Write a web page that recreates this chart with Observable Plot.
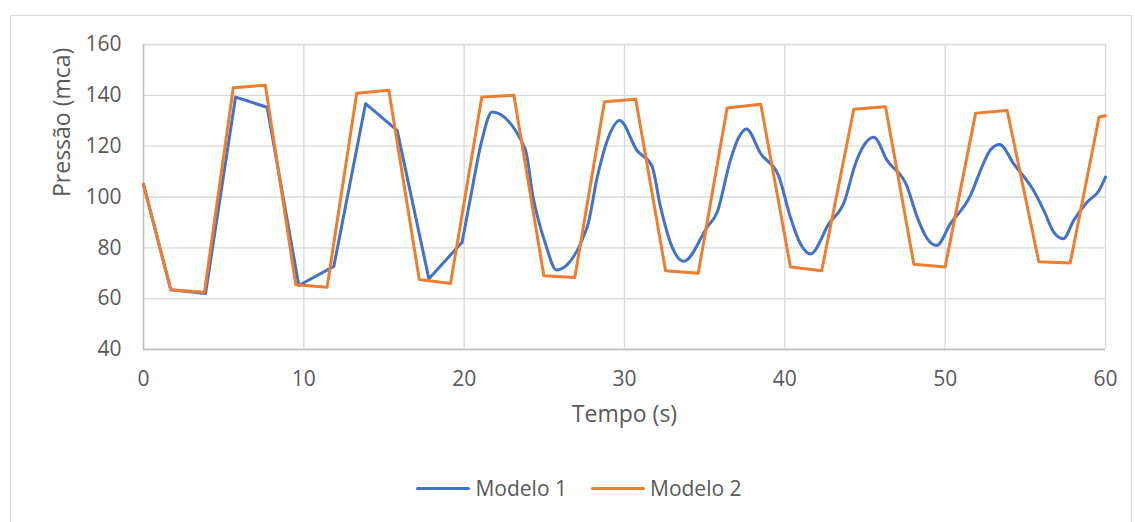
<!DOCTYPE html>
<html>
<head>
<meta charset="utf-8">
<script src="https://cdn.jsdelivr.net/npm/d3@7"></script>
<script src="https://cdn.jsdelivr.net/npm/@observablehq/plot@0.6"></script>
<style>
  html, body { margin: 0; padding: 0; background: #fff; }
  #wrap { position: relative; width: 1135px; height: 522px; overflow: hidden; font-family: "Open Sans", sans-serif; }
  #frame { position: absolute; left: 10px; top: 15px; width: 1122px; height: 520px; border: 1px solid #d9d9d9; box-sizing: border-box; }
  #legend { position: absolute; top: 474px; left: 0; width: 1135px; display: flex; justify-content: center; gap: 24px; font-size: 21px; color: #595959; padding-left: 23px; box-sizing: border-box; }
  .item { display: flex; align-items: center; gap: 5px; }
  .sw { width: 54px; height: 3px; border-radius: 2px; }
  svg { position: absolute; left: 0; top: 0; }
</style>
</head>
<body>
<div id="wrap"><div id="frame"></div><div id="legend"></div></div>
<script>
const xTicks = [0, 10, 20, 30, 40, 50, 60];
const yTicks = [40, 60, 80, 100, 120, 140, 160];
const seriesNames = ["Modelo 1", "Modelo 2"];
const seriesColors = ["#4472C4", "#ED7D31"];

const modelo1T = [0, 1.7, 3.87, 5.74, 7.71, 9.69, 11.87, 13.85, 15.82, 17.8, 19.87,
  20.4, 21.1, 21.74, 23.8, 24.3, 25.07, 25.76, 27.67, 28.3, 29.0, 29.7, 30.78, 31.7,
  32.25, 32.97, 33.7, 35.15, 35.78, 36.6, 37.13, 37.6, 38.5, 39.6, 40.35, 40.97, 41.6,
  42.75, 43.7, 44.4, 44.93, 45.55, 46.38, 47.6, 48.26, 48.88, 49.46, 50.33, 51.58,
  52.2, 52.83, 53.4, 54.28, 55.63, 56.15, 56.77, 57.36, 58.02, 58.86, 59.6, 60];
const modelo1P = [105, 63.5, 62, 139.3, 135.3, 65.2, 72.7, 136.7, 126.2, 67.8, 82.2,
  99.9, 122.2, 133.4, 119, 99.9, 81.6, 71.3, 88.1, 107.8, 123.5, 130.1, 118.3, 112.4,
  96, 80.3, 74.7, 88.1, 94, 114.4, 123.5, 126.8, 117, 108.5, 92, 81.6, 77.6,
  89.5, 98, 113, 120.3, 123.5, 114.4, 104.5, 92, 83.6, 80.9, 89.5, 100.6,
  110.4, 118.6, 120.7, 113, 101.3, 94.7, 86.2, 83.6, 90.8, 98, 102.6, 107.8];

const modelo2T = [0, 1.7, 3.8, 5.6, 7.6, 9.5, 11.45, 13.3, 15.3, 17.2, 19.15, 21.1, 23.1,
  24.97, 26.9, 28.75, 30.7, 32.56, 34.6, 36.4, 38.5, 40.35, 42.3, 44.3, 46.28, 48.05,
  50.0, 51.9, 53.87, 55.84, 57.8, 59.6, 60];
const modelo2P = [105, 63.5, 62.5, 143, 144, 65.5, 64.5, 140.8, 142, 67.5, 66, 139.3, 140,
  69, 68.3, 137.5, 138.5, 71, 70, 135, 136.5, 72.5, 71, 134.5, 135.5, 73.5,
  72.5, 133, 134, 74.5, 74, 131.5, 132];

const d1 = modelo1T.map((t, i) => ({t, p: modelo1P[i], s: seriesNames[0]}));
const d2 = modelo2T.map((t, i) => ({t, p: modelo2P[i], s: seriesNames[1]}));
// early part of Modelo 1 is drawn with straight segments, later part smoothed
const split = 19.87;
const d1a = d1.filter(d => d.t <= split);
const d1b = d1.filter(d => d.t >= split);

const chart = Plot.plot({
  width: 1135,
  height: 522,
  marginLeft: 143,
  marginRight: 30,
  marginTop: 44,
  marginBottom: 173,
  style: { fontFamily: "Open Sans, sans-serif", fontSize: "21px", color: "#595959", background: "transparent", overflow: "visible" },
  x: { domain: [0, 60] },
  y: { domain: [40, 160] },
  color: { domain: seriesNames, range: seriesColors },
  marks: [
    Plot.gridX(xTicks, { stroke: "#d9d9d9", strokeOpacity: 1, strokeWidth: 1.3 }),
    Plot.gridY(yTicks, { stroke: "#d9d9d9", strokeOpacity: 1, strokeWidth: 1.3 }),
    Plot.ruleY([40], { stroke: "#bfbfbf", strokeWidth: 1.5 }),
    Plot.ruleX([0], { stroke: "#bfbfbf", strokeWidth: 1.5 }),
    Plot.axisX(xTicks, { tickSize: 0, tickPadding: 22, label: null, fill: "#595959", fontSize: 21 }),
    Plot.axisY(yTicks, { tickSize: 0, tickPadding: 22, label: null, fill: "#595959", fontSize: 21 }),
    Plot.text(["Tempo (s)"], { frameAnchor: "bottom", dy: 72, fill: "#595959", fontSize: 23 }),
    Plot.text(["Pressão (mca)"], { frameAnchor: "left", dx: -81, rotate: -90, fill: "#595959", fontSize: 23 }),
    Plot.line(d1a, { x: "t", y: "p", stroke: "s", strokeWidth: 3, curve: "linear", strokeLinejoin: "round", strokeLinecap: "round" }),
    Plot.line(d1b, { x: "t", y: "p", stroke: "s", strokeWidth: 3, curve: "monotone-x", strokeLinejoin: "round", strokeLinecap: "round" }),
    Plot.line(d2, { x: "t", y: "p", stroke: "s", strokeWidth: 3, curve: "linear", strokeLinejoin: "round" })
  ]
});
document.getElementById("wrap").appendChild(chart);

const leg = document.getElementById("legend");
seriesNames.forEach((n, i) => {
  const it = document.createElement("div");
  it.className = "item";
  const sw = document.createElement("div");
  sw.className = "sw";
  sw.style.background = seriesColors[i];
  const tx = document.createElement("span");
  tx.textContent = n;
  it.appendChild(sw); it.appendChild(tx);
  leg.appendChild(it);
});
</script>
</body>
</html>
